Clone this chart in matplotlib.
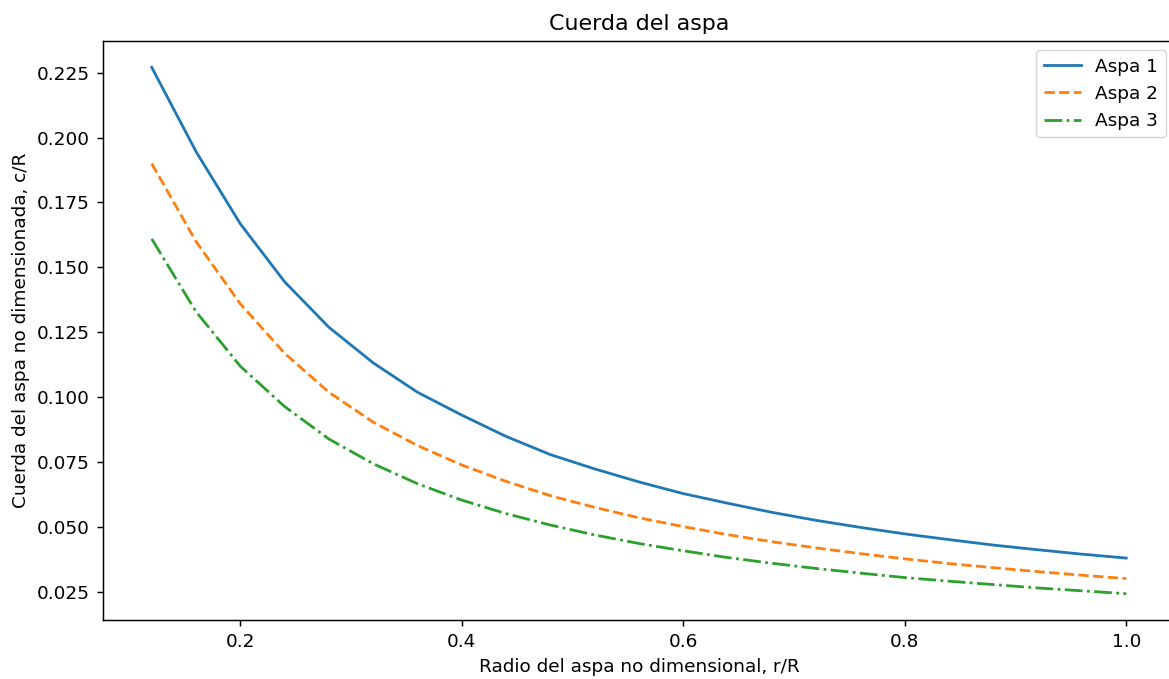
import numpy as np
import matplotlib
matplotlib.use("Agg")
import matplotlib.pyplot as plt

# radio adimensional r/R
r_R = [0.12, 0.16, 0.20, 0.24, 0.28, 0.32, 0.36, 0.40, 0.44, 0.48, 0.52, 0.56,
       0.60, 0.64, 0.68, 0.72, 0.76, 0.80, 0.84, 0.88, 0.92, 0.96, 1.00]

# cuerda adimensional c/R de cada aspa
aspa1 = [0.227, 0.1946, 0.1668, 0.1445, 0.127, 0.1133, 0.102, 0.0932, 0.085, 0.078,
         0.0725, 0.0675, 0.063, 0.0593, 0.0558, 0.0527, 0.050, 0.0475, 0.0453,
         0.0432, 0.0414, 0.0397, 0.0382]
aspa2 = [0.190, 0.160, 0.136, 0.117, 0.102, 0.0905, 0.0815, 0.074, 0.0677, 0.0622,
         0.0577, 0.0537, 0.0503, 0.0472, 0.0445, 0.0421, 0.0399, 0.0379, 0.0361,
         0.0345, 0.0330, 0.0316, 0.0303]
aspa3 = [0.161, 0.133, 0.112, 0.0965, 0.084, 0.0745, 0.0668, 0.0605, 0.0553, 0.0509,
         0.0471, 0.0438, 0.041, 0.0384, 0.0362, 0.0342, 0.0324, 0.0307, 0.0293,
         0.0280, 0.0267, 0.0256, 0.0245]

etiquetas = ["Aspa 1", "Aspa 2", "Aspa 3"]
estilos = ["-", "--", "-."]

# todo escalado ~1.33 respecto a los valores por defecto
esc = 1.33
plt.rcParams.update({
    "font.size": 10 * esc,
    "axes.linewidth": 0.8 * esc,
    "xtick.major.size": 3.5 * esc,
    "ytick.major.size": 3.5 * esc,
    "xtick.major.width": 0.8 * esc,
    "ytick.major.width": 0.8 * esc,
    "xtick.major.pad": 3.5 * esc,
    "ytick.major.pad": 3.5 * esc,
    "lines.linewidth": 1.5 * esc,
    "axes.titlepad": 6 * esc,
    "axes.labelpad": 4 * esc,
})

fig = plt.figure(figsize=(11.69, 6.79), dpi=100)
ax = fig.add_axes([0.0881, 0.0869, 0.917, 0.8527])

for c, ls, lab in zip([aspa1, aspa2, aspa3], estilos, etiquetas):
    ax.plot(r_R, c, ls, label=lab)

ax.set_title("Cuerda del aspa", fontsize=12 * esc)
ax.set_xlabel("Radio del aspa no dimensional, r/R")
ax.set_ylabel("Cuerda del aspa no dimensionada, c/R")
ax.legend()

fig.savefig("out.png", dpi=100)
